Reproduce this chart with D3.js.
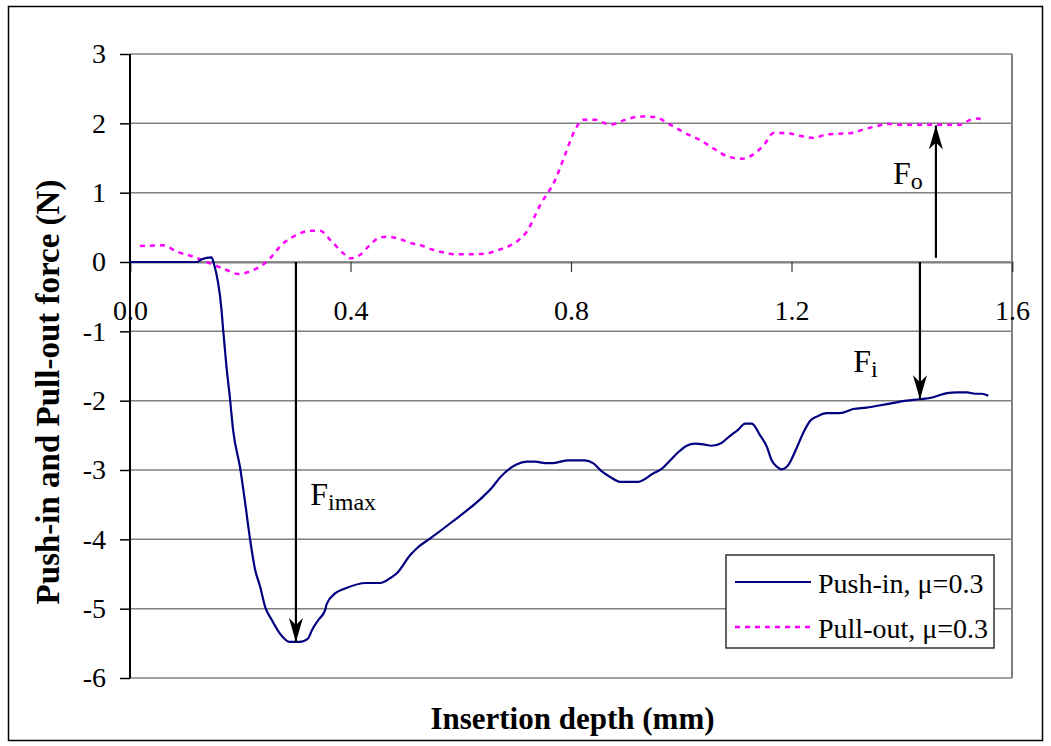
<!DOCTYPE html>
<html>
<head>
<meta charset="utf-8">
<script src="https://cdn.jsdelivr.net/npm/d3@7"></script>
<style>
  html, body { margin: 0; padding: 0; background: #fff; }
  svg { display: block; font-family: "Liberation Serif", "Times New Roman", serif; }
</style>
</head>
<body>
<svg id="chart" width="1051" height="746"></svg>
<script>
// ---------- data ----------
const pushX = [0, 0.1215, 0.130, 0.148, 0.152, 0.166, 0.169, 0.175, 0.181, 0.187, 0.200, 0.209, 0.218, 0.227, 0.236, 0.245, 0.257, 0.272, 0.290, 0.308, 0.323, 0.330, 0.342, 0.354, 0.357, 0.372, 0.390, 0.429, 0.454, 0.472, 0.484, 0.508, 0.523, 0.544, 0.584, 0.641, 0.656, 0.671, 0.701, 0.720, 0.735, 0.753, 0.768, 0.795, 0.825, 0.840, 0.856, 0.871, 0.889, 0.922, 0.949, 0.965, 0.980, 0.995, 1.010, 1.025, 1.040, 1.055, 1.073, 1.088, 1.103, 1.116, 1.128, 1.143, 1.155, 1.164, 1.173, 1.182, 1.194, 1.209, 1.221, 1.234, 1.246, 1.264, 1.288, 1.312, 1.336, 1.373, 1.409, 1.433, 1.457, 1.482, 1.500, 1.518, 1.533, 1.545, 1.557];
const pushY = [0, 0, 0.039, 0.068, -0.019, -0.69, -0.98, -1.51, -1.94, -2.42, -2.98, -3.48, -4.01, -4.44, -4.68, -4.97, -5.16, -5.36, -5.48, -5.48, -5.43, -5.31, -5.16, -5.02, -4.93, -4.78, -4.71, -4.63, -4.63, -4.56, -4.49, -4.23, -4.11, -3.99, -3.75, -3.38, -3.26, -3.11, -2.92, -2.88, -2.88, -2.90, -2.90, -2.86, -2.86, -2.90, -3.02, -3.10, -3.17, -3.17, -3.05, -2.98, -2.86, -2.74, -2.65, -2.62, -2.63, -2.65, -2.61, -2.51, -2.42, -2.33, -2.33, -2.50, -2.66, -2.86, -2.95, -2.99, -2.93, -2.69, -2.47, -2.29, -2.23, -2.18, -2.18, -2.12, -2.10, -2.05, -2.00, -1.98, -1.95, -1.89, -1.88, -1.88, -1.90, -1.90, -1.93];

const pullX = [0.018, 0.060, 0.085, 0.115, 0.145, 0.175, 0.196, 0.224, 0.248, 0.278, 0.302, 0.327, 0.345, 0.363, 0.387, 0.399, 0.417, 0.435, 0.454, 0.469, 0.490, 0.511, 0.526, 0.547, 0.571, 0.590, 0.611, 0.632, 0.653, 0.677, 0.701, 0.720, 0.744, 0.771, 0.789, 0.807, 0.822, 0.844, 0.871, 0.898, 0.925, 0.952, 0.980, 1.007, 1.034, 1.058, 1.085, 1.110, 1.134, 1.152, 1.167, 1.191, 1.215, 1.240, 1.264, 1.288, 1.309, 1.330, 1.355, 1.373, 1.397, 1.457, 1.506, 1.524, 1.539, 1.547];
const pullY = [0.23, 0.24, 0.15, 0.076, -0.019, -0.115, -0.173, -0.115, 0.004, 0.27, 0.39, 0.45, 0.45, 0.32, 0.125, 0.053, 0.10, 0.245, 0.356, 0.365, 0.33, 0.27, 0.245, 0.183, 0.134, 0.111, 0.111, 0.115, 0.134, 0.198, 0.29, 0.44, 0.82, 1.18, 1.54, 1.90, 2.05, 2.05, 1.98, 2.05, 2.10, 2.09, 1.98, 1.86, 1.76, 1.64, 1.52, 1.49, 1.57, 1.71, 1.86, 1.86, 1.82, 1.79, 1.84, 1.85, 1.86, 1.91, 1.96, 1.99, 1.98, 1.98, 1.98, 2.05, 2.07, 2.03];

const xTicks = [0, 0.4, 0.8, 1.2, 1.6];
const xTickLabels = ["0.0", "0.4", "0.8", "1.2", "1.6"];
const yTicks = [3, 2, 1, 0, -1, -2, -3, -4, -5, -6];
const yTickLabels = ["3", "2", "1", "0", "-1", "-2", "-3", "-4", "-5", "-6"];

const seriesNames = ["Push-in, \u03bc=0.3", "Pull-out, \u03bc=0.3"];
const xTitle = "Insertion depth (mm)";
const yTitle = "Push-in and Pull-out force (N)";

// annotation arrows: [x, yFrom, yTo]
const arrowX = [0.301, 1.433, 1.462];
const arrowFrom = [0, 0, 0.06];
const arrowTo = [-5.48, -1.98, 1.97];
const annMain = ["F", "F", "F"];
const annSub = ["imax", "i", "o"];
const annX = [0.327, 1.312, 1.384];
const annY = [-3.5, -1.59, 1.125];

// ---------- drawing ----------
const svg = d3.select("#chart");
const L = 130, R = 1012, T = 54, B = 678;
const x = d3.scaleLinear().domain([0, 1.6]).range([L, R]);
const y = d3.scaleLinear().domain([-6, 3]).range([B, T]);

// outer chart border
svg.append("rect").attr("x", 8.5).attr("y", 6.5).attr("width", 1034).attr("height", 734)
  .attr("fill", "#fff").attr("stroke", "#000").attr("stroke-width", 1.5);

// gridlines
svg.append("g").selectAll("line").data(yTicks).join("line")
  .attr("x1", L).attr("x2", R)
  .attr("y1", d => y(d)).attr("y2", d => y(d))
  .attr("stroke", "#808080").attr("stroke-width", 1.5);

// plot-area right border
svg.append("line").attr("x1", R).attr("x2", R).attr("y1", T).attr("y2", B)
  .attr("stroke", "#808080").attr("stroke-width", 2);

// x axis (at y = 0)
const xAxis = d3.axisBottom(x).tickValues(xTicks)
  .tickFormat((d, i) => xTickLabels[i]).tickSize(10).tickPadding(28);
const gx = svg.append("g").attr("transform", `translate(0,${y(0)})`).call(xAxis);
gx.select(".domain").attr("stroke", "#808080").attr("stroke-width", 2);
gx.selectAll(".tick line").attr("stroke", "#333").attr("stroke-width", 1.2);
gx.selectAll("text").attr("font-size", 28).attr("fill", "#000")
  .attr("font-family", "Liberation Serif, Times New Roman, serif");

// y axis
const yAxis = d3.axisLeft(y).tickValues(yTicks)
  .tickFormat((d, i) => yTickLabels[i]).tickSize(10).tickPadding(14);
const gy = svg.append("g").attr("transform", `translate(${L},0)`).call(yAxis);
gy.select(".domain").remove();
gy.selectAll(".tick line").attr("stroke", "#000").attr("stroke-width", 1.5);
gy.selectAll("text").attr("font-size", 28).attr("fill", "#000")
  .attr("font-family", "Liberation Serif, Times New Roman, serif");
svg.append("line").attr("x1", L).attr("x2", L).attr("y1", T).attr("y2", B)
  .attr("stroke", "#000").attr("stroke-width", 2);

// series
const line = d3.line().x(d => x(d[0])).y(d => y(d[1])).curve(d3.curveMonotoneX);
const pushData = pushX.map((v, i) => [v, pushY[i]]);
const pullData = pullX.map((v, i) => [v, pullY[i]]);

svg.append("path").datum(pullData).attr("d", line)
  .attr("fill", "none").attr("stroke", "#FF00FF").attr("stroke-width", 2.5)
  .attr("stroke-dasharray", "5,5");
svg.append("path").datum(pushData).attr("d", line)
  .attr("fill", "none").attr("stroke", "#000080").attr("stroke-width", 2.2);

// arrow marker
const defs = svg.append("defs");
defs.append("marker").attr("id", "arr").attr("viewBox", "0 0 24 14")
  .attr("refX", 24).attr("refY", 7).attr("markerWidth", 24).attr("markerHeight", 14)
  .attr("markerUnits", "userSpaceOnUse").attr("orient", "auto")
  .append("path").attr("d", "M0,0 L24,7 L0,14 L7,7 Z").attr("fill", "#000");

svg.append("g").selectAll("line").data(arrowX).join("line")
  .attr("x1", d => x(d)).attr("x2", d => x(d))
  .attr("y1", (d, i) => y(arrowFrom[i])).attr("y2", (d, i) => y(arrowTo[i]))
  .attr("stroke", "#000").attr("stroke-width", 2.2).attr("marker-end", "url(#arr)");

const ann = svg.append("g").selectAll("text").data(annMain).join("text")
  .attr("x", (d, i) => x(annX[i])).attr("y", (d, i) => y(annY[i]))
  .attr("font-size", 32).attr("fill", "#000").text(d => d);
ann.append("tspan").attr("font-size", 24).attr("dy", 5).text((d, i) => annSub[i]);

// legend
const lg = svg.append("g");
lg.append("rect").attr("x", 726).attr("y", 555).attr("width", 268).attr("height", 93)
  .attr("fill", "#fff").attr("stroke", "#333").attr("stroke-width", 1.5);
const legStroke = ["#000080", "#FF00FF"];
const legDash = [null, "5,5"];
const legY = [582, 627];
seriesNames.forEach((name, i) => {
  lg.append("line").attr("x1", 735).attr("x2", 811).attr("y1", legY[i]).attr("y2", legY[i])
    .attr("stroke", legStroke[i]).attr("stroke-width", i ? 2.5 : 2.2)
    .attr("stroke-dasharray", legDash[i]);
  lg.append("text").attr("x", 818).attr("y", legY[i] + 11).attr("font-size", 28)
    .attr("fill", "#000").text(name);
});

// axis titles
svg.append("text").attr("x", (433 + 712) / 2).attr("y", 729).attr("text-anchor", "middle")
  .attr("font-size", 31).attr("font-weight", "bold").text(xTitle);
svg.append("text").attr("transform", "translate(59,392) rotate(-90)")
  .attr("text-anchor", "middle").attr("font-size", 33).attr("font-weight", "bold").text(yTitle);
</script>
</body>
</html>
